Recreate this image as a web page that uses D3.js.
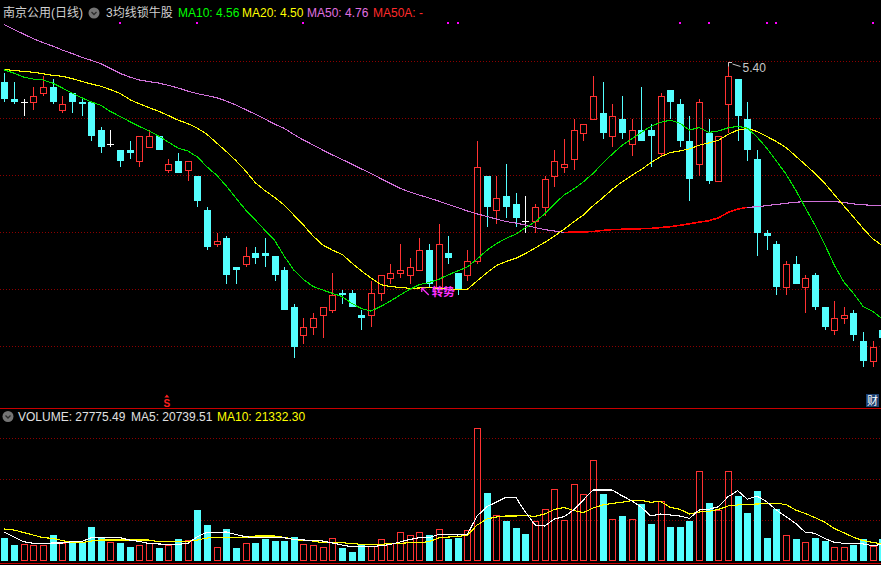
<!DOCTYPE html>
<html>
<head>
<meta charset="utf-8">
<script src="https://cdn.jsdelivr.net/npm/d3@7"></script>
<style>
  html, body { margin: 0; padding: 0; background: #000; }
  svg { display: block; }
  text { font-family: "Liberation Sans", Arial, "Noto Sans CJK SC", sans-serif; }
</style>
</head>
<body>
<svg id="chart" width="881" height="565"></svg>
<script>
// ---- daily bars (price in yuan), oldest first ----
const open = [5.33,5.27,5.26,5.26,5.29,5.31,5.23,5.29,5.26,5.26,
  5.16,5.11,5.09,5.09,5.05,5.10,5.14,5.02,5.05,5.02,
  5.00,4.88,4.76,4.78,4.68,4.69,4.73,4.73,4.72,4.67,
  4.54,4.44,4.47,4.51,4.53,4.59,4.59,4.51,4.51,4.59,
  4.64,4.66,4.65,4.67,4.74,4.61,4.73,4.66,4.65,4.70,
  5.00,4.88,4.93,4.90,4.84,4.84,4.89,5.00,5.03,5.06,
  5.15,5.20,5.22,5.14,5.20,5.11,5.16,5.16,5.08,5.30,
  5.25,5.12,5.04,5.15,4.98,5.25,5.34,5.20,5.06,4.80,
  4.76,4.61,4.69,4.61,4.65,4.54,4.46,4.50,4.52,4.42,
  4.35,4.46];
const high = [5.36,5.33,5.27,5.31,5.35,5.34,5.28,5.29,5.27,5.26,
  5.17,5.16,5.09,5.12,5.14,5.16,5.14,5.06,5.08,5.05,
  5.00,4.89,4.80,4.79,4.68,4.75,4.75,4.78,4.72,4.68,
  4.55,4.50,4.52,4.54,4.66,4.60,4.60,4.53,4.63,4.65,
  4.69,4.76,4.71,4.78,4.76,4.83,4.79,4.66,4.74,5.12,
  5.00,5.00,5.04,4.94,4.93,4.90,5.00,5.09,5.13,5.20,
  5.18,5.35,5.33,5.25,5.28,5.20,5.31,5.18,5.29,5.30,
  5.27,5.21,5.27,5.20,5.14,5.40,5.34,5.26,5.09,4.81,
  4.77,4.70,4.72,4.65,4.66,4.54,4.56,4.54,4.53,4.45,
  4.42,4.47];
const low = [5.26,5.25,5.21,5.23,5.28,5.25,5.22,5.22,5.21,5.12,
  5.08,5.10,5.03,5.06,5.03,5.10,5.09,5.01,5.01,4.98,
  4.89,4.74,4.75,4.62,4.62,4.68,4.69,4.68,4.63,4.53,
  4.36,4.41,4.44,4.43,4.52,4.55,4.54,4.46,4.47,4.56,
  4.62,4.64,4.62,4.67,4.61,4.61,4.69,4.58,4.63,4.69,
  4.82,4.83,4.85,4.82,4.80,4.80,4.86,4.96,5.01,5.02,
  5.12,5.20,5.13,5.10,5.13,5.07,5.12,5.03,5.07,5.20,
  5.10,4.91,5.00,4.97,4.98,5.15,5.12,5.05,4.72,4.74,
  4.58,4.58,4.62,4.52,4.53,4.46,4.44,4.48,4.42,4.33,
  4.33,4.42];
const close = [5.27,5.26,5.26,5.28,5.31,5.26,5.25,5.26,5.25,5.14,
  5.10,5.11,5.05,5.08,5.14,5.14,5.09,5.04,5.01,5.05,
  4.91,4.75,4.77,4.65,4.67,4.72,4.71,4.72,4.65,4.53,
  4.40,4.47,4.50,4.54,4.58,4.58,4.54,4.50,4.59,4.65,
  4.66,4.67,4.68,4.74,4.62,4.76,4.71,4.60,4.70,5.03,
  4.89,4.92,4.89,4.85,4.84,4.89,4.99,5.05,5.04,5.16,
  5.18,5.28,5.15,5.21,5.15,5.16,5.12,5.14,5.28,5.26,
  5.12,4.99,5.26,4.98,5.14,5.35,5.21,5.09,4.80,4.79,
  4.61,4.69,4.62,4.64,4.54,4.47,4.50,4.51,4.44,4.35,
  4.40,4.43];

// ---- moving averages of close ----
const ma10 = [5.371,5.360,5.346,5.339,5.336,5.325,5.308,5.290,5.274,5.259,
  5.247,5.225,5.208,5.190,5.173,5.157,5.139,5.118,5.097,5.087,
  5.066,5.031,5.002,4.964,4.922,4.880,4.845,4.809,4.774,4.718,
  4.669,4.636,4.611,4.599,4.587,4.576,4.552,4.534,4.525,4.541,
  4.560,4.581,4.601,4.618,4.625,4.636,4.652,4.666,4.680,4.708,
  4.738,4.762,4.780,4.795,4.817,4.838,4.866,4.901,4.932,4.953,
  4.978,5.008,5.043,5.076,5.106,5.129,5.152,5.173,5.187,5.195,
  5.184,5.160,5.169,5.152,5.157,5.168,5.173,5.167,5.136,5.097,
  5.052,5.006,4.950,4.888,4.827,4.760,4.687,4.627,4.587,4.541,
  4.524,4.497];
const ma20 = [5.373,5.369,5.366,5.363,5.358,5.352,5.349,5.341,5.331,5.322,
  5.314,5.302,5.289,5.267,5.252,5.239,5.226,5.211,5.195,5.183,
  5.167,5.145,5.115,5.085,5.053,5.017,4.976,4.948,4.924,4.897,
  4.862,4.827,4.788,4.757,4.739,4.724,4.694,4.666,4.641,4.618,
  4.611,4.608,4.605,4.606,4.607,4.605,4.602,4.602,4.602,4.631,
  4.659,4.685,4.699,4.710,4.727,4.746,4.766,4.788,4.812,4.838,
  4.862,4.894,4.922,4.952,4.978,5.000,5.022,5.045,5.067,5.081,
  5.087,5.094,5.107,5.115,5.124,5.145,5.160,5.166,5.155,5.138,
  5.120,5.099,5.069,5.039,5.008,4.974,4.934,4.894,4.855,4.815,
  4.778,4.755];
const ma50 = [5.530,5.513,5.497,5.481,5.467,5.455,5.441,5.429,5.416,5.405,
  5.393,5.376,5.359,5.346,5.336,5.330,5.325,5.317,5.308,5.297,
  5.288,5.281,5.274,5.262,5.248,5.232,5.216,5.199,5.181,5.166,
  5.145,5.125,5.108,5.090,5.073,5.057,5.041,5.024,5.008,4.990,
  4.973,4.956,4.943,4.932,4.922,4.911,4.899,4.888,4.876,4.866,
  4.857,4.848,4.839,4.834,4.827,4.818,4.811,4.806,4.801,4.802,
  4.803,4.804,4.808,4.811,4.812,4.813,4.814,4.815,4.818,4.821,
  4.826,4.831,4.837,4.842,4.852,4.871,4.883,4.889,4.891,4.895,
  4.899,4.903,4.907,4.909,4.909,4.909,4.909,4.906,4.901,4.898,
  4.896,4.894];
// MA50A is shown only over this run of bars
const ma50aFirst = 58, ma50aLast = 77;

// ---- volume (lots) and its averages ----
const volume = [28780,19880,21100,19880,19880,32070,21950,22680,22680,41830,
  30000,23170,22680,17800,19880,21950,16590,19880,27190,25980,
  62560,44270,17800,39390,16590,21950,22680,27190,24760,24760,
  30000,21100,19880,17800,28780,16590,11710,19880,19020,27190,
  21950,35370,32070,35370,32070,39390,27190,28780,38170,162190,
  83660,56460,49510,40980,33290,49510,63780,87800,50360,93900,
  81710,123170,82070,51580,55240,51580,69880,45490,73540,41830,
  41830,49150,110120,71100,62560,110120,79630,58900,85730,28780,
  63780,31710,27190,23170,28780,24760,17440,17440,19880,27190,
  19020,27775.49];
const volMa5 = [35370,29630,23900,21950,21950,22320,22320,23900,23900,28780,
  28780,28780,28780,25980,24150,21710,21100,20730,20730,21710,
  30000,35370,35370,35730,32680,30000,28780,28780,28780,28780,
  26590,25980,25370,24760,22320,19880,17800,17800,17800,19020,
  20490,23540,26590,28780,28780,32680,32680,32070,33290,55240,
  66580,72320,78050,78050,60120,44270,43050,51580,54390,62560,
  74760,86950,86950,86950,80000,73900,65850,55240,57680,56460,
  55240,52440,62560,63410,66580,78780,86100,75610,79630,72680,
  62560,54390,46340,35370,34150,28050,23170,21950,21950,21100,
  19020,20739.51];
const volMa10 = [39390,38170,35120,32070,28780,28050,25370,22680,22680,24760,
  25980,25980,25980,25980,25980,25980,23900,23900,23900,24150,
  25980,28410,28780,28780,28780,28780,30850,30850,30850,29270,
  26590,25370,24760,22680,22680,22680,21710,20730,20730,20730,
  21710,21950,22680,22680,23900,28410,29630,30000,32070,44270,
  51580,54020,55240,55240,55610,54880,57680,63170,65610,61950,
  59270,65000,68660,70730,71950,73900,74390,71950,73170,65850,
  63410,57680,60120,60980,63170,67440,68660,69510,69880,70240,
  70730,69270,62560,58290,53410,47930,40000,34880,29270,25370,
  22930,21332.30];

// ---- markers and header ----
const signalBars = [12, 20, 31, 46, 47, 70, 73, 79, 80, 90];
const dividendBar = 17;
const turnBar = 43;
const turnLabel = "转势";
const stockName = "南京公用(日线)";
const formulaName = "3均线锁牛股";
const headerMA10 = 4.56, headerMA20 = 4.50, headerMA50 = 4.76;
const gridPrices = [4.4, 4.6, 4.8, 5.0, 5.2, 5.4];
const gridVolumes = [50000, 100000, 150000];

// ---- drawing ----
const W = 881, H = 565;
const C_UP = "#ff3232", C_DOWN = "#54ffff", C_FLAT = "#ffffff";
const C_MA10 = "#00e400", C_MA20 = "#ffff00", C_MA50 = "#d070d8", C_MA50A = "#ff0000";
const n = open.length;

const svg = d3.select("#chart");
svg.append("rect").attr("width", W).attr("height", H).attr("fill", "#000");

const x = d3.scaleLinear().domain([0, n - 1]).range([4.3, 4.3 + 9.65 * (n - 1)]);
const yP = d3.scaleLinear().domain([4.20, 5.60]).range([403.7, 4.7]);
const yV = d3.scaleLinear().domain([0, 150000]).range([561.3, 438.3]);
const px = i => Math.round(x(i));

// dotted grid
const grid = svg.append("g").attr("stroke", "#8c0000").attr("stroke-dasharray", "1,2")
  .attr("shape-rendering", "crispEdges");
gridPrices.forEach(p => {
  const y = Math.floor(yP(p)) + 0.5;
  grid.append("line").attr("x1", 0).attr("x2", W).attr("y1", y).attr("y2", y);
});
gridVolumes.forEach(v => {
  const y = Math.floor(yV(v)) + 0.5;
  grid.append("line").attr("x1", 0).attr("x2", W).attr("y1", y).attr("y2", y);
});

// panel separators
svg.append("line").attr("x1", 0).attr("x2", W).attr("y1", 408.5).attr("y2", 408.5)
  .attr("stroke", "#c80000").attr("stroke-width", 1);
svg.append("line").attr("x1", 0).attr("x2", W).attr("y1", 563.5).attr("y2", 563.5)
  .attr("stroke", "#c80000").attr("stroke-width", 1);

const candleColor = i => close[i] > open[i] ? C_UP : (close[i] < open[i] ? C_DOWN : C_FLAT);
const volColor = i => {
  if (close[i] > open[i]) return C_UP;
  if (close[i] < open[i]) return C_DOWN;
  return (i === 0 || close[i] >= close[i - 1]) ? C_UP : C_DOWN;
};

// candles
const cg = svg.append("g").attr("shape-rendering", "crispEdges");
d3.range(n).forEach(i => {
  const cx = px(i), col = candleColor(i);
  const yH = Math.round(yP(high[i])), yL = Math.round(yP(low[i]));
  const yTop = Math.round(yP(Math.max(open[i], close[i])));
  const yBot = Math.round(yP(Math.min(open[i], close[i])));
  if (col === C_UP) {
    if (yTop > yH) cg.append("line").attr("x1", cx + 0.5).attr("x2", cx + 0.5)
      .attr("y1", yH).attr("y2", yTop).attr("stroke", col);
    if (yL > yBot) cg.append("line").attr("x1", cx + 0.5).attr("x2", cx + 0.5)
      .attr("y1", yBot).attr("y2", yL).attr("stroke", col);
    cg.append("rect").attr("x", cx - 3 + 0.5).attr("y", yTop + 0.5)
      .attr("width", 6).attr("height", Math.max(yBot - yTop, 1))
      .attr("fill", "none").attr("stroke", col);
  } else if (col === C_DOWN) {
    cg.append("line").attr("x1", cx + 0.5).attr("x2", cx + 0.5)
      .attr("y1", yH).attr("y2", yL).attr("stroke", col);
    cg.append("rect").attr("x", cx - 3).attr("y", yTop)
      .attr("width", 7).attr("height", Math.max(yBot - yTop, 1)).attr("fill", col);
  } else {
    cg.append("line").attr("x1", cx + 0.5).attr("x2", cx + 0.5)
      .attr("y1", yH).attr("y2", yL).attr("stroke", col);
    cg.append("line").attr("x1", cx - 3).attr("x2", cx + 4)
      .attr("y1", yTop + 0.5).attr("y2", yTop + 0.5).attr("stroke", col);
  }
});

// price moving averages
const priceLine = d3.line().x((d, i) => x(i)).y(d => yP(d));
[[ma50, C_MA50], [ma20, C_MA20], [ma10, C_MA10]].forEach(([s, c]) => {
  svg.append("path").attr("d", priceLine(s)).attr("fill", "none")
    .attr("stroke", c).attr("stroke-width", 1.1).attr("shape-rendering", "crispEdges");
});
const ma50a = d3.range(ma50aFirst, ma50aLast + 1);
svg.append("path")
  .attr("d", d3.line().x(i => x(i)).y(i => yP(ma50[i]))(ma50a))
  .attr("fill", "none").attr("stroke", C_MA50A).attr("stroke-width", 1.6)
  .attr("shape-rendering", "crispEdges");

// signal dots along the top
signalBars.forEach(i => {
  svg.append("rect").attr("x", px(i) - 1).attr("y", 22).attr("width", 2).attr("height", 2)
    .attr("fill", "#ff00ff");
});

// highest price label
const iMax = d3.maxIndex(high);
const hx = px(iMax) + 0.5, hy = Math.round(yP(high[iMax])) + 0.5;
svg.append("path").attr("d", `M${hx},${hy + 4}V${hy}H${hx + 3.5}M${hx + 4},${hy + 1.5}L${hx + 12},${hy + 4}`)
  .attr("fill", "none").attr("stroke", "#c8c8c8").attr("stroke-width", 1);
svg.append("text").attr("x", hx + 14).attr("y", hy + 9).attr("fill", "#c8c8c8")
  .attr("font-size", 12).text(high[iMax].toFixed(2));

// trend-turn note
const tx = x(turnBar) + 2.5, ty = yP(ma20[turnBar]);
svg.append("path").attr("d", `M${tx + 7},${ty + 7}L${tx},${ty}M${tx},${ty}l0,4M${tx},${ty}l4,0`)
  .attr("fill", "none").attr("stroke", "#ff30ff").attr("stroke-width", 1.2);
svg.append("text").attr("x", tx + 10).attr("y", ty + 8.5).attr("fill", "#ff30ff")
  .attr("font-size", 11.5).attr("font-weight", "bold").attr("font-family", "Noto Sans CJK SC")
  .text(turnLabel);

// dividend marker
const dvx = x(dividendBar) - 1.5;
svg.append("path").attr("d", `M${dvx - 2.5},${397.5}L${dvx},${394.5}L${dvx + 2.5},${397.5}Z`)
  .attr("fill", "#ff2020");
svg.append("text").attr("x", dvx).attr("y", 406.5).attr("text-anchor", "middle")
  .attr("fill", "#ff2020").attr("font-size", 10).attr("font-weight", "bold").text("S");

// finance badge
svg.append("rect").attr("x", 866).attr("y", 394).attr("width", 13).attr("height", 13).attr("fill", "#1d4070");
svg.append("text").attr("x", 872.5).attr("y", 405).attr("text-anchor", "middle")
  .attr("fill", "#ffffff").attr("font-size", 11).attr("font-family", "Noto Sans CJK SC").text("财");

// volume bars
const vg = svg.append("g").attr("shape-rendering", "crispEdges");
d3.range(n).forEach(i => {
  const cx = px(i), col = volColor(i);
  const yt = Math.round(yV(volume[i])), yb = Math.round(yV(0));
  if (col === C_UP) {
    vg.append("rect").attr("x", cx - 3 + 0.5).attr("y", yt + 0.5)
      .attr("width", 6).attr("height", yb - yt - 1).attr("fill", "none").attr("stroke", col);
  } else {
    vg.append("rect").attr("x", cx - 3).attr("y", yt).attr("width", 7)
      .attr("height", yb - yt).attr("fill", col);
  }
});
const volLine = d3.line().x((d, i) => x(i)).y(d => yV(d));
[[volMa10, C_MA20], [volMa5, "#ffffff"]].forEach(([s, c]) => {
  svg.append("path").attr("d", volLine(s)).attr("fill", "none")
    .attr("stroke", c).attr("stroke-width", 1.1).attr("shape-rendering", "crispEdges");
});

// headers
function badge(cx, cy) {
  svg.append("circle").attr("cx", cx).attr("cy", cy).attr("r", 5.5).attr("fill", "#747474");
  svg.append("path").attr("d", `M${cx - 2.5},${cy - 1}L${cx},${cy + 1.5}L${cx + 2.5},${cy - 1}`)
    .attr("fill", "none").attr("stroke", "#2a2a2a").attr("stroke-width", 1.3);
}
const head = [
  [3, stockName, "#d0d0d0"],
  [106, formulaName, "#d0d0d0"],
  [178, `MA10: ${headerMA10.toFixed(2)}`, "#00ff00"],
  [242, `MA20: ${headerMA20.toFixed(2)}`, "#ffff00"],
  [307, `MA50: ${headerMA50.toFixed(2)}`, "#e070e0"],
  [373, "MA50A: -", "#ff2a2a"]
];
head.forEach(([hx0, t, c]) => svg.append("text").attr("x", hx0).attr("y", 17)
  .attr("fill", c).attr("font-size", 12).text(t));
badge(94, 13);

const last = n - 1;
const vhead = [
  [18, `VOLUME: ${volume[last].toFixed(2)}`, "#e0e0e0"],
  [131, `MA5: ${volMa5[last].toFixed(2)}`, "#e0e0e0"],
  [217, `MA10: ${volMa10[last].toFixed(2)}`, "#ffff00"]
];
vhead.forEach(([hx0, t, c]) => svg.append("text").attr("x", hx0).attr("y", 421)
  .attr("fill", c).attr("font-size", 12).text(t));
badge(8, 416.5);
</script>
</body>
</html>
